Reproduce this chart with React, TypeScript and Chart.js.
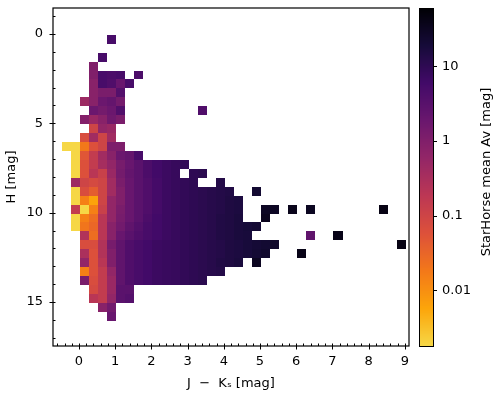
import React, { useEffect, useRef } from 'react';
import { Chart, registerables } from 'chart.js';

Chart.register(...registerables);

// ---------------- data ----------------
// 2D histogram bins: J-Ks (x) and H (y)
const jkFirstEdge = -0.47;
const jkBinWidth = 0.25;
const hFirstEdge = 0.05;
const hBinHeight = 0.5;

// first column index of each H row (row 0 = brightest H)
const rowStartCol: number[] = [
  5, 0, 4, 3, 3, 3, 3, 2, 3, 2, 3, 2, 0, 1, 1, 1,
  1, 1, 1, 1, 1, 1, 2, 2, 2, 2, 2, 2, 3, 3, 4, 5,
];

// StarHorse mean Av per cell (null = empty bin)
const avRows: (number | null)[][] = [
  [5],
  [],
  [5],
  [1.0],
  [1.0, 5, 4.5, 5, null, 4.5],
  [0.8, 5, 4, 2, 5],
  [0.8, 1.2, 1.2, 3.5],
  [0.45, 0.8, 1.8, 2.2, 1.4],
  [1.8, 1.4, 1.8, 3.8, null, null, null, null, null, null, null, null, 4],
  [0.9, 0.5, 0.8, 1.6, 1.2],
  [0.1, 0.6, 0.5],
  [0.07, 0.4, 0.1, 0.4],
  [0.0018, 0.0018, 0.018, 0.06, 0.1, 1.1, 1.1],
  [0.0018, 0.05, 0.15, 0.4, 0.8, 1.8, 2.2, 5],
  [0.0018, 0.06, 0.15, 0.35, 0.6, 1.3, 2, 3, 4.5, 6, 7, 8, 9],
  [0.0018, 0.06, 0.2, 0.12, 0.5, 1.4, 2.2, 3, 4.5, 6, 7, 8, null, 10, 11],
  [0.45, 0.1, 0.08, 0.1, 0.4, 1.2, 2, 3, 4, 5.5, 7, 8, 9, 10, null, null, 13],
  [0.0018, 0.07, 0.04, 0.1, 0.4, 1, 2, 3, 4, 5.5, 7, 8, 9, 10, 11, 12, 13, 14, null, null, 22],
  [0.0018, 0.015, 0.006, 0.1, 0.6, 1, 2, 3, 4, 5.5, 7, 8, 9, 10, 11, 12, 13, 15, 16],
  [0.15, 0.0018, 0.015, 0.12, 0.6, 1.2, 2, 3, 4, 5.5, 7, 8, 9, 10, 11, 12, 13, 15, 16, null, null, 30, 30, null, 36, null, 32, null, null, null, null, null, null, null, 42],
  [0.0018, 0.015, 0.025, 0.2, 0.6, 1.3, 2, 3, 4.5, 6, 7, 8, 9, 10, 11, 12, 14, 15, 17, null, null, 34],
  [0.0018, 0.02, 0.03, 0.2, 0.8, 1.5, 2.5, 3.5, 5, 6, 7, 8, 9, 10, 11, 12, 14, 15, 17, 19, 21],
  [0.25, 0.025, 0.2, 0.8, 2, 3, 4, 5, 6, 7, 8, 9, 10, 11, 12, 14, 15, 17, 18, null, null, null, null, null, null, 2.5, null, null, 40],
  [0.07, 0.07, 0.25, 1.3, 2.5, 4, 5, 6, 7, 7.5, 8, 9, 10, 11, 12, 13, 15, 16, 18, 20, 22, 26, null, null, null, null, null, null, null, null, null, null, null, null, null, 42],
  [0.3, 0.06, 0.25, 1, 2.5, 4, 5, 6, 7, 7.5, 8, 9, 10, 11, 12, 13, 15, 16, 18, 21, 24, null, null, null, 40],
  [0.6, 0.06, 0.2, 1, 2.5, 4, 5, 6, 7, 7.5, 8, 9, 10, 11, 12, 14, 15, 17, null, 32],
  [0.015, 0.06, 0.15, 0.6, 2.5, 4, 5, 6, 7, 7.5, 8, 9, 10, 11, 12, 13],
  [1.2, 0.07, 0.15, 0.5, 2.5, 4, 5, 6, 7, 7.5, 8, 9, 10, 11],
  [0.08, 0.15, 0.5, 3, 3],
  [0.2, 0.15, 0.6, 3, 3.5],
  [0.8, 1.5],
  [2],
];

const xMajorTicks = [0, 1, 2, 3, 4, 5, 6, 7, 8, 9];
const yMajorTicks = [0, 5, 10, 15];
const cbTickValues = [0.01, 0.1, 1, 10];
const cbTickLabels = ['0.01', '0.1', '1', '10'];

const xRange = [-0.718, 9.116];
const yRange = [-1.45, 17.46];
const avRange = [0.0018, 60];

const xTitle = 'J  \u2212  K\u209B [mag]';
const yTitle = 'H [mag]';
const cbTitle = 'StarHorse mean Av [mag]';

// ---------------- colour map (inferno, reversed, log norm) ----------------
const INFERNO = [
  '#000004', '#160B39', '#420A68', '#6A176E', '#932667', '#BC3754',
  '#DD513A', '#F37819', '#FCA50A', '#F6D746', '#FCFFA4',
].map((h) => [parseInt(h.slice(1, 3), 16), parseInt(h.slice(3, 5), 16), parseInt(h.slice(5, 7), 16)]);

function inferno(t: number): string {
  const tt = Math.max(0, Math.min(1, t)) * 10;
  const i = Math.min(9, Math.floor(tt));
  const f = tt - i;
  const a = INFERNO[i];
  const b = INFERNO[i + 1];
  const c = a.map((v, k) => Math.round(v + (b[k] - v) * f));
  return `rgb(${c[0]},${c[1]},${c[2]})`;
}

function avColor(v: number): string {
  const lo = Math.log10(avRange[0]);
  const hi = Math.log10(avRange[1]);
  let f = (Math.log10(v) - lo) / (hi - lo);
  f = Math.max(0, Math.min(1, f));
  return inferno(0.9 * (1 - f));
}

// cells built from arrays
type Cell = { x: number; y: number; av: number };
const cells: Cell[] = [];
avRows.forEach((row, r) => {
  row.forEach((av, i) => {
    if (av == null) return;
    const c = rowStartCol[r] + i;
    cells.push({
      x: jkFirstEdge + (c + 0.5) * jkBinWidth,
      y: hFirstEdge + (r + 0.5) * hBinHeight,
      av,
    });
  });
});

const FONT = "'DejaVu Sans', sans-serif";

const heatmapPlugin = {
  id: 'heatmap',
  beforeDatasetsDraw(chart: any) {
    const { ctx, chartArea, scales } = chart;
    const xs = scales.x;
    const ys = scales.y;
    ctx.save();
    ctx.beginPath();
    ctx.rect(chartArea.left, chartArea.top, chartArea.right - chartArea.left, chartArea.bottom - chartArea.top);
    ctx.clip();
    (chart.data.datasets[0].data as Cell[]).forEach((d) => {
      const x0 = Math.round(xs.getPixelForValue(d.x - jkBinWidth / 2));
      const x1 = Math.round(xs.getPixelForValue(d.x + jkBinWidth / 2));
      const y0 = Math.round(ys.getPixelForValue(d.y - hBinHeight / 2));
      const y1 = Math.round(ys.getPixelForValue(d.y + hBinHeight / 2));
      ctx.fillStyle = avColor(d.av);
      ctx.fillRect(Math.min(x0, x1), Math.min(y0, y1), Math.abs(x1 - x0), Math.abs(y1 - y0));
    });
    ctx.restore();
  },
  afterDraw(chart: any) {
    const { ctx, chartArea, scales } = chart;
    const xs = scales.x;
    const ys = scales.y;
    const cb = scales.cb;
    const { left, right, top, bottom } = chartArea;
    ctx.save();
    ctx.strokeStyle = '#000';
    ctx.lineWidth = 1.2;
    // frame
    ctx.strokeRect(left, top, right - left, bottom - top);
    // x ticks
    ctx.lineWidth = 1;
    ctx.beginPath();
    for (let i = -3; i <= 45; i++) {
      const v = i * 0.2;
      const px = Math.round(xs.getPixelForValue(v)) + 0.5;
      if (px < left || px > right) continue;
      if (i % 5 === 0) {
        ctx.moveTo(px, bottom + 3.5);
        ctx.lineTo(px, bottom - 2.5);
      } else {
        ctx.moveTo(px, bottom);
        ctx.lineTo(px, bottom - 2.5);
      }
    }
    // y ticks
    for (let v = -1; v <= 17; v++) {
      const py = Math.round(ys.getPixelForValue(v)) + 0.5;
      if (py < top || py > bottom) continue;
      if (yMajorTicks.includes(v)) {
        ctx.moveTo(left - 3.5, py);
        ctx.lineTo(left + 2.5, py);
      } else {
        ctx.moveTo(left, py);
        ctx.lineTo(left + 2.5, py);
      }
    }
    ctx.stroke();

    // colour bar
    const sx0 = right + 10;
    const sw = 14;
    const cTop = Math.round(cb.top);
    const cBot = Math.round(cb.bottom);
    for (let py = cTop; py < cBot; py++) {
      const v = cb.getValueForPixel(py + 0.5);
      ctx.fillStyle = avColor(v);
      ctx.fillRect(sx0, py, sw, 1);
    }
    ctx.lineWidth = 1;
    ctx.strokeRect(sx0 + 0.5, cTop + 0.5, sw, cBot - cTop);
    ctx.beginPath();
    cbTickValues.forEach((v) => {
      const py = Math.round(cb.getPixelForValue(v)) + 0.5;
      ctx.moveTo(sx0 + sw + 0.5, py);
      ctx.lineTo(sx0 + sw + 4, py);
    });
    ctx.stroke();

    // colour bar title
    ctx.fillStyle = '#000';
    ctx.font = `13px ${FONT}`;
    ctx.textAlign = 'center';
    ctx.textBaseline = 'middle';
    ctx.translate(487, (cTop + cBot) / 2 - 5);
    ctx.rotate(-Math.PI / 2);
    ctx.fillText(cbTitle, 0, 0);
    ctx.restore();
  },
};

export default function App() {
  const canvasRef = useRef<HTMLCanvasElement | null>(null);

  useEffect(() => {
    document.body.style.margin = '0';
    const canvas = canvasRef.current;
    if (!canvas) return;
    Chart.defaults.font.family = FONT;
    Chart.defaults.font.size = 13;
    Chart.defaults.color = '#000';

    const chart = new Chart(canvas, {
      type: 'scatter',
      data: {
        datasets: [
          {
            data: cells as any,
            pointRadius: 0,
            pointHoverRadius: 0,
            showLine: false,
          },
        ],
      },
      options: {
        animation: false,
        responsive: false,
        events: [],
        layout: { padding: { top: 8, left: 0, right: 0, bottom: 0 } },
        plugins: {
          legend: { display: false },
          tooltip: { enabled: false },
        },
        scales: {
          x: {
            type: 'linear',
            position: 'bottom',
            min: xRange[0],
            max: xRange[1],
            grid: { display: false, drawTicks: true, tickLength: 8 },
            border: { display: false },
            afterBuildTicks: (s: any) => {
              s.ticks = xMajorTicks.map((v) => ({ value: v }));
            },
            afterFit: (s: any) => {
              s.height = 48;
            },
            ticks: {
              color: '#000',
              font: { size: 13, family: FONT },
              padding: 0,
              maxRotation: 0,
              autoSkip: false,
              callback: (v: any) => String(v),
            },
            title: {
              display: true,
              text: xTitle,
              color: '#000',
              font: { size: 13, family: FONT },
              padding: { top: 0, bottom: 3 },
            },
          },
          y: {
            type: 'linear',
            position: 'left',
            reverse: true,
            min: yRange[0],
            max: yRange[1],
            grid: { display: false, drawTicks: true, tickLength: 10 },
            border: { display: false },
            afterBuildTicks: (s: any) => {
              s.ticks = yMajorTicks.map((v) => ({ value: v }));
            },
            afterFit: (s: any) => {
              s.width = 53;
            },
            ticks: {
              color: '#000',
              font: { size: 13, family: FONT },
              padding: 0,
              autoSkip: false,
              callback: (v: any) => String(v),
            },
            title: {
              display: true,
              text: yTitle,
              color: '#000',
              font: { size: 13, family: FONT },
              padding: { top: 4, bottom: 0 },
            },
          },
          cb: {
            type: 'logarithmic',
            axis: 'y',
            position: 'right',
            min: avRange[0],
            max: avRange[1],
            grid: { display: false, drawTicks: true, tickLength: 33 },
            border: { display: false },
            afterBuildTicks: (s: any) => {
              s.ticks = cbTickValues.map((v) => ({ value: v }));
            },
            afterFit: (s: any) => {
              s.width = 91;
            },
            ticks: {
              color: '#000',
              font: { size: 13, family: FONT },
              padding: 0,
              autoSkip: false,
              callback: (v: any) => {
                const i = cbTickValues.findIndex((t) => Math.abs(t - v) / t < 1e-6);
                return i >= 0 ? cbTickLabels[i] : '';
              },
            },
          },
        } as any,
      },
      plugins: [heatmapPlugin],
    });
    return () => chart.destroy();
  }, []);

  return (
    <div style={{ width: 500, height: 394 }}>
      <canvas ref={canvasRef} width={500} height={394} style={{ display: 'block' }} />
    </div>
  );
}
